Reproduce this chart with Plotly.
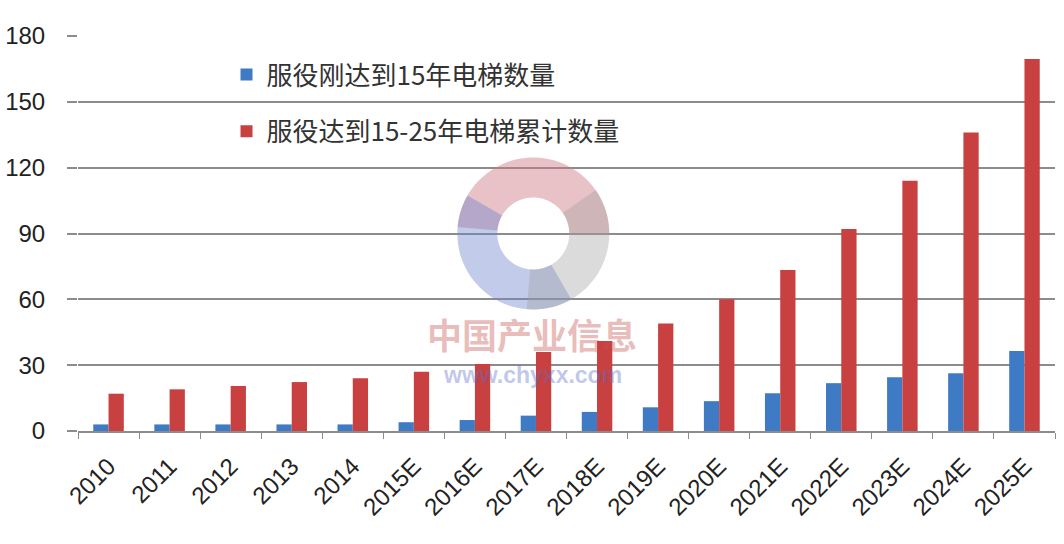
import math
import plotly.graph_objects as go

categories = ["2010", "2011", "2012", "2013", "2014", "2015E", "2016E", "2017E",
              "2018E", "2019E", "2020E", "2021E", "2022E", "2023E", "2024E", "2025E"]
just_15 = [3, 3, 3, 3, 3, 4, 5, 7, 8.7, 10.8, 13.6, 17.2, 21.8, 24.5, 26.3, 36.5]
cum_15_25 = [17, 19, 20.5, 22.3, 24, 27, 30.5, 36, 41, 49, 60, 73.4, 92, 114, 136, 169.5]
name_a = "服役刚达到15年电梯数量"
name_b = "服役达到15-25年电梯累计数量"
y_ticks = [0, 30, 60, 90, 120, 150, 180]

fig = go.Figure()
fig.add_trace(go.Bar(x=categories, y=just_15, name=name_a, legendgroup="a",
                     marker=dict(color="#3E7BC4", line=dict(width=0))))
fig.add_trace(go.Bar(x=categories, y=cum_15_25, name=name_b, legendgroup="b",
                     marker=dict(color="#C8403F", line=dict(width=0))))

font_family = "Liberation Sans, Arial, Noto Sans CJK SC, sans-serif"

fig.update_layout(
    width=1064, height=544,
    margin=dict(l=78, r=9, t=36, b=113, autoexpand=False),
    paper_bgcolor="white", plot_bgcolor="white",
    barmode="group", bargap=0.5, bargroupgap=0,
    font=dict(family=font_family, color="#222"),
    legend=dict(x=0.152, y=0.962, xanchor="left", yanchor="top",
                font=dict(size=26, color="#333", family="Noto Sans CJK SC, sans-serif"),
                tracegroupgap=20, bgcolor="rgba(0,0,0,0)", itemwidth=30),
    showlegend=True,
)
fig.update_yaxes(range=[0, 180], tickvals=y_ticks, showgrid=True, gridcolor="#8c8c8c",
                 gridwidth=1.5, zeroline=False, showline=False, ticks="outside",
                 ticklen=10, tickcolor="#8c8c8c", tickwidth=1.5, automargin=False,
                 tickfont=dict(size=24, color="#222"), ticklabelstandoff=17)
fig.update_xaxes(showline=True, linecolor="#8c8c8c", linewidth=1.5, ticks="outside",
                 tickson="boundaries", ticklen=6, tickcolor="#8c8c8c", tickangle=-45,
                 automargin=False, tickfont=dict(size=24, color="#222"),
                 ticklabelstandoff=10)


# faint watermark logo (three overlapping arc bands)
def arc_path(a0, a1, r_out=76, r_in=36, n=40):
    pts = []
    for i in range(n + 1):
        a = math.radians(a0 + (a1 - a0) * i / n)
        pts.append((r_out * math.cos(a), r_out * math.sin(a)))
    for i in range(n + 1):
        a = math.radians(a1 - (a1 - a0) * i / n)
        pts.append((r_in * math.cos(a), r_in * math.sin(a)))
    return "M " + " L ".join(f"{x:.1f},{y:.1f}" for x, y in pts) + " Z"


logo_x, logo_y = 0.466, 0.50
for a0, a1, col in [(0, 175, "rgba(205,120,130,0.45)"),
                    (150, 300, "rgba(110,130,205,0.42)"),
                    (-95, 35, "rgba(160,160,160,0.38)")]:
    fig.add_shape(type="path", xref="paper", yref="paper", xsizemode="pixel",
                  ysizemode="pixel", xanchor=logo_x, yanchor=logo_y,
                  path=arc_path(a0, a1), fillcolor=col, line=dict(width=0),
                  layer="above")

fig.add_annotation(x=0.465, y=0.246, xref="paper", yref="paper", xanchor="center",
                   yanchor="middle", text="<b>中国产业信息</b>", showarrow=False,
                   font=dict(size=35, color="rgba(200,80,80,0.4)",
                             family="Noto Sans CJK SC, sans-serif"))
fig.add_annotation(x=0.465, y=0.143, xref="paper", yref="paper", xanchor="center",
                   yanchor="middle", text="<b>www.chyxx.com</b>", showarrow=False,
                   font=dict(size=23, color="rgba(90,110,200,0.4)",
                             family="Liberation Sans, Arial, sans-serif"))

fig.write_html("out.html", config={"displayModeBar": False},
               post_script="document.body.style.margin='0px';")
